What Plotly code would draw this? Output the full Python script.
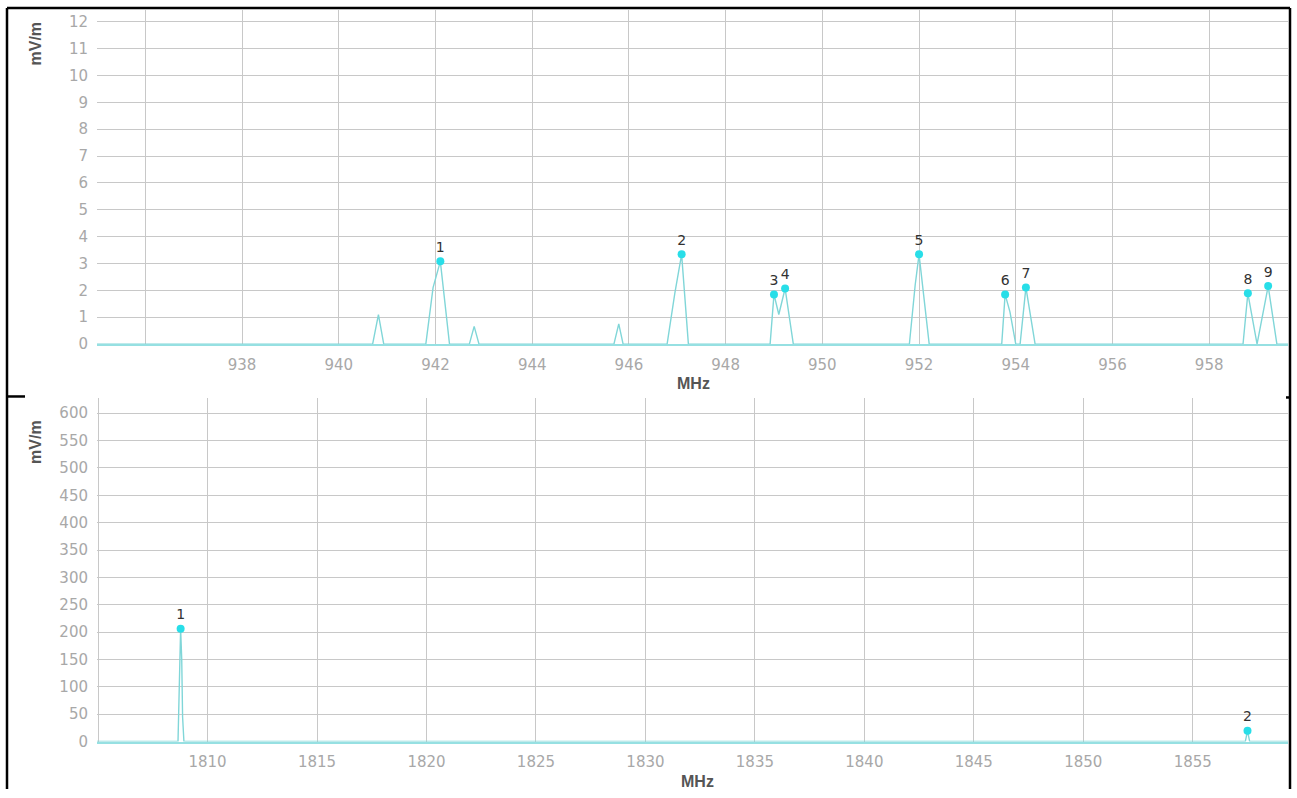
import plotly.graph_objects as go

# ---- 900 MHz band spectrum (MHz, mV/m) ----
gsm_freq = [935.0,
            940.70, 940.82, 940.93,
            941.80, 941.95, 942.10, 942.29,
            942.70, 942.80, 942.90,
            945.69, 945.79, 945.88,
            946.79, 946.95, 947.09, 947.23,
            948.92, 949.00, 949.10, 949.23, 949.40,
            951.80, 951.92, 952.00, 952.21,
            953.71, 953.78, 953.88, 954.00,
            954.09, 954.21, 954.40,
            958.70, 958.80, 958.99, 959.22, 959.40,
            959.63]
gsm_level = [0.0,
             0.0, 1.10, 0.0,
             0.0, 2.10, 3.08, 0.0,
             0.0, 0.66, 0.0,
             0.0, 0.75, 0.0,
             0.0, 1.90, 3.34, 0.0,
             0.0, 1.85, 1.10, 2.07, 0.0,
             0.0, 2.20, 3.34, 0.0,
             0.0, 1.85, 1.20, 0.0,
             0.0, 2.11, 0.0,
             0.0, 1.89, 0.0, 2.16, 0.0,
             0.0]

gsm_peak_freq = [942.10, 947.09, 949.00, 949.23, 952.00, 953.78, 954.21, 958.80, 959.22]
gsm_peak_level = [3.08, 3.34, 1.85, 2.07, 3.34, 1.85, 2.11, 1.89, 2.16]
gsm_peak_label = ["1", "2", "3", "4", "5", "6", "7", "8", "9"]

gsm_xticks = [936, 938, 940, 942, 944, 946, 948, 950, 952, 954, 956, 958]
gsm_xtext = ["", "938", "940", "942", "944", "946", "948", "950", "952", "954", "956", "958"]
gsm_yticks = list(range(0, 13))

# ---- 1800 MHz band spectrum (MHz, mV/m) ----
dcs_freq = [1804.95, 1808.65, 1808.77, 1808.82, 1808.86, 1808.92,
            1857.40, 1857.50, 1857.60, 1859.35]
dcs_level = [0.0, 0.0, 206.0, 150.0, 45.0, 0.0,
             0.0, 19.5, 0.0, 0.0]

dcs_peak_freq = [1808.77, 1857.50]
dcs_peak_level = [206.0, 19.5]
dcs_peak_label = ["1", "2"]

dcs_xticks = [1805, 1810, 1815, 1820, 1825, 1830, 1835, 1840, 1845, 1850, 1855]
dcs_xtext = ["", "1810", "1815", "1820", "1825", "1830", "1835", "1840", "1845", "1850", "1855"]
dcs_yticks = list(range(0, 601, 50))

W, H = 1297, 798
LINE = "rgb(128,214,216)"
MARK = "rgb(40,222,232)"
GRID = "rgb(200,200,200)"
TICKFONT = dict(family="DejaVu Sans", size=15, color="rgb(168,168,168)")
LABELFONT = dict(family="DejaVu Sans", size=14, color="rgb(50,50,50)")
TITLEFONT = dict(family="Liberation Sans", size=16, color="rgb(85,85,85)")


def px_x(p):
    return p / W


def px_y(p):
    return 1 - p / H


fig = go.Figure()

fig.add_trace(go.Scatter(x=gsm_freq, y=gsm_level, mode="lines",
                         line=dict(color=LINE, width=1.4),
                         xaxis="x", yaxis="y", hoverinfo="skip"))
fig.add_trace(go.Scatter(x=gsm_peak_freq, y=gsm_peak_level, mode="markers+text",
                         marker=dict(color=MARK, size=8),
                         text=gsm_peak_label, textposition="top center",
                         textfont=LABELFONT, xaxis="x", yaxis="y"))

fig.add_trace(go.Scatter(x=dcs_freq, y=dcs_level, mode="lines",
                         line=dict(color=LINE, width=1.4),
                         xaxis="x2", yaxis="y2", hoverinfo="skip"))
fig.add_trace(go.Scatter(x=dcs_peak_freq, y=dcs_peak_level, mode="markers+text",
                         marker=dict(color=MARK, size=8),
                         text=dcs_peak_label, textposition="top center",
                         textfont=LABELFONT, xaxis="x2", yaxis="y2"))

xdom = [px_x(97), px_x(1288)]
axis_common = dict(showgrid=True, gridcolor=GRID, gridwidth=1, zeroline=False,
                   ticks="", tickfont=TICKFONT, fixedrange=True)
xaxis_style = dict(showline=True, linecolor="rgb(150,224,226)", linewidth=1.5,
                   ticklabelstandoff=6, **axis_common)
yaxis_style = dict(showline=False, ticklabelstandoff=8, **axis_common)

fig.update_layout(
    width=W, height=H,
    margin=dict(l=0, r=0, t=0, b=0),
    paper_bgcolor="white", plot_bgcolor="white",
    showlegend=False,
    xaxis=dict(domain=xdom, anchor="y", range=[935.0, 959.63],
               tickmode="array", tickvals=gsm_xticks, ticktext=gsm_xtext, **xaxis_style),
    yaxis=dict(domain=[px_y(348), px_y(10)], anchor="x", range=[0, 12.44],
               tickmode="array", tickvals=gsm_yticks, **yaxis_style),
    xaxis2=dict(domain=xdom, anchor="y2", range=[1804.95, 1859.35],
                tickmode="array", tickvals=dcs_xticks, ticktext=dcs_xtext, **xaxis_style),
    yaxis2=dict(domain=[px_y(750), px_y(403)], anchor="x2", range=[0, 627],
                tickmode="array", tickvals=dcs_yticks, **yaxis_style),
)

# Axis titles
for cx, cy, txt, ang in [(36, 44, "mV/m", -90), (36, 447, "mV/m", -90),
                         (693, 388, "MHz", 0), (697, 790, "MHz", 0)]:
    fig.add_annotation(x=px_x(cx), y=px_y(cy), xref="paper", yref="paper",
                       text="<b>%s</b>" % txt, textangle=ang, showarrow=False,
                       font=TITLEFONT, xanchor="center", yanchor="middle")

# Frame lines around the two panels
frame = [(7, 8, 1290, 8), (7, 8, 7, 798), (1290, 8, 1290, 798),
         (7, 401, 25, 401), (1286, 402, 1290, 402)]
for x0, y0, x1, y1 in frame:
    fig.add_shape(type="line", xref="paper", yref="paper",
                  x0=px_x(x0), y0=px_y(y0), x1=px_x(x1), y1=px_y(y1),
                  line=dict(color="black", width=2.5))

fig.write_html("out.html")
